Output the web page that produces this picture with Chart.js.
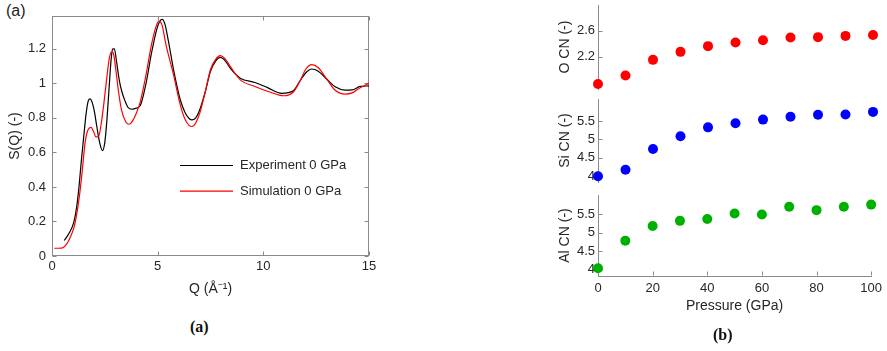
<!DOCTYPE html>
<html>
<head>
<meta charset="utf-8">
<script src="https://cdn.jsdelivr.net/npm/chart.js@4.4.0/dist/chart.umd.min.js"></script>
<style>
body { margin:0; background:#fff; width:887px; height:351px; overflow:hidden; position:relative; font-family:"Liberation Sans", Arial, sans-serif; }
canvas { position:absolute; }
.cap { position:absolute; font-family:"Liberation Serif", serif; font-weight:bold; font-size:16px; line-height:16px; color:#111; }
</style>
</head>
<body>
<div style="position:absolute;left:6px;top:2px;font-size:16px;line-height:18px;color:#222">(a)</div>
<canvas id="sq" width="380" height="300" style="left:0;top:0"></canvas>
<canvas id="ocn" width="347" height="108" style="left:540px;top:-7px"></canvas>
<canvas id="sicn" width="347" height="107" style="left:540px;top:87px"></canvas>
<canvas id="alcn" width="347" height="137" style="left:540px;top:183px"></canvas>
<div class="cap" style="left:190px;top:319px">(a)</div>
<div class="cap" style="left:713px;top:327px">(b)</div>
<script>
// S(Q) curves
var expQ = [0.58,0.8,1.02,1.15,1.26,1.38,1.5,1.62,1.72,1.8,1.9,2.0,2.12,2.25,2.39,2.5,2.6,2.7,2.8,2.87,2.95,3.05,3.18,3.31,3.45,3.6,3.78,3.95,4.17,4.45,4.7,4.95,5.1,5.22,5.35,5.5,5.75,6.07,6.3,6.5,6.62,6.8,7.0,7.25,7.5,7.75,7.96,8.2,8.45,8.91,9.6,10.2,10.87,11.42,11.74,12.0,12.29,12.6,13.0,13.4,13.87,14.2,14.58,15];
var expS = [0.09,0.13,0.19,0.27,0.38,0.54,0.69,0.83,0.9,0.91,0.89,0.84,0.75,0.66,0.61,0.66,0.79,0.97,1.14,1.2,1.2,1.13,1.02,0.95,0.9,0.86,0.85,0.855,0.87,1.0,1.17,1.31,1.36,1.37,1.34,1.25,1.08,0.905,0.83,0.795,0.788,0.8,0.85,0.95,1.07,1.13,1.15,1.13,1.085,1.03,1.005,0.975,0.942,0.957,1.015,1.06,1.083,1.07,1.025,0.98,0.961,0.962,0.982,0.985];
var simQ = [0.11,0.3,0.5,0.7,0.87,1.05,1.18,1.3,1.42,1.57,1.7,1.85,1.97,2.08,2.2,2.32,2.45,2.6,2.72,2.84,2.93,3.02,3.15,3.3,3.5,3.65,3.8,4.0,4.17,4.45,4.7,4.9,5.05,5.2,5.4,5.75,6.07,6.3,6.5,6.62,6.8,7.0,7.25,7.5,7.75,7.96,8.2,8.45,8.91,9.6,10.3,10.95,11.42,11.74,12.0,12.29,12.6,13.0,13.4,13.87,14.2,14.58,15];
var simS = [0.045,0.045,0.047,0.07,0.11,0.17,0.25,0.35,0.48,0.66,0.73,0.745,0.72,0.69,0.69,0.76,0.88,1.04,1.15,1.185,1.16,1.08,0.95,0.84,0.775,0.763,0.78,0.83,0.89,1.05,1.22,1.32,1.36,1.34,1.22,1.05,0.875,0.79,0.755,0.75,0.77,0.83,0.95,1.08,1.14,1.16,1.14,1.095,1.02,0.982,0.95,0.928,0.95,1.015,1.08,1.108,1.09,1.025,0.96,0.938,0.945,0.975,1.0];
var sqTicks = [0,0.2,0.4,0.6,0.8,1,1.2];

// coordination numbers vs pressure
var pressure = [0,10,20,30,40,50,60,70,80,90,100];
var oCN  = [1.785,1.917,2.154,2.276,2.363,2.419,2.454,2.495,2.5,2.519,2.534];
var siCN = [4.0,4.18,4.74,5.09,5.33,5.44,5.54,5.62,5.67,5.68,5.75];
var alCN = [4.035,4.78,5.18,5.32,5.37,5.52,5.49,5.70,5.61,5.70,5.76];
var oTicks = [2.2,2.6];
var cnTicks = [4,4.5,5,5.5];

var axisGray = '#8a8a8a';
var textCol = '#262626';
var tickFont = {family:'Liberation Sans', size:13};
var titleFont = {family:'Liberation Sans', size:14};

function fmt(v) { return String(+(+v).toFixed(2)); }
function fixTicks(list) { return function(s) { s.ticks = list.map(function(v){ return {value:v}; }); }; }
function seg(ctx, x1, y1, x2, y2) { ctx.beginPath(); ctx.moveTo(x1, y1); ctx.lineTo(x2, y2); ctx.stroke(); }

// matlab style ticks pointing into the plot (+ the box for the left one)
var inTicks = {
  id: 'inTicks',
  beforeDatasetsDraw: function(chart, args, o) {
    var ctx = chart.ctx, a = chart.chartArea, len = 4;
    var xs = chart.scales.x, ys = chart.scales.y;
    var L = Math.round(a.left) + 0.5, R = Math.round(a.right) - 0.5, T = Math.round(a.top) + 0.5, B = Math.round(a.bottom) - 0.5;
    ctx.save();
    ctx.strokeStyle = axisGray;
    ctx.lineWidth = 1;
    if (o.box) ctx.strokeRect(L, T, R - L, B - T);
    ys.ticks.forEach(function(t) {
      var p = Math.round(ys.getPixelForValue(t.value)) + 0.5;
      seg(ctx, L, p, L + len, p);
      if (o.box) seg(ctx, R, p, R - len, p);
    });
    if (o.bottom) xs.ticks.forEach(function(t) {
      var p = Math.round(xs.getPixelForValue(t.value)) + 0.5;
      seg(ctx, p, B, p, B - len);
      if (o.box) seg(ctx, p, T, p, T + len);
    });
    ctx.restore();
  }
};

var boxLegend = {
  id: 'boxLegend',
  afterDraw: function(chart, args, o) {
    if (!o.show) return;
    var ctx = chart.ctx;
    ctx.save();
    ctx.font = '13px "Liberation Sans"';
    ctx.textBaseline = 'middle';
    chart.data.datasets.forEach(function(d, i) {
      var y = o.y + i * o.gap + 0.5;
      ctx.strokeStyle = d.borderColor;
      ctx.lineWidth = 1.2;
      seg(ctx, o.x, y, o.x + o.w, y);
      ctx.fillStyle = textCol;
      ctx.fillText(d.label, o.x + o.w + 7, y);
    });
    ctx.restore();
  }
};

function pairs(xs, ys) { return xs.map(function(x, i){ return {x:x, y:ys[i]}; }); }

new Chart(document.getElementById('sq'), {
  type: 'line',
  data: {
    datasets: [
      {label:'Experiment 0 GPa', data:pairs(expQ, expS), borderColor:'#000', borderWidth:1.2, pointRadius:0, cubicInterpolationMode:'monotone', order:1},
      {label:'Simulation 0 GPa', data:pairs(simQ, simS), borderColor:'#f00', borderWidth:1.2, pointRadius:0, cubicInterpolationMode:'monotone', order:0}
    ]
  },
  options: {
    responsive:false, animation:false,
    layout: {padding:{left:0, right:11, top:16, bottom:0}},
    plugins: {legend:{display:false}, tooltip:{enabled:false},
      inTicks:{box:true, bottom:true},
      boxLegend:{show:true, x:180, y:165, gap:25.7, w:53}},
    scales: {
      x: {type:'linear', min:0, max:15,
        ticks:{stepSize:5, color:textCol, font:tickFont, padding:3, maxRotation:0},
        grid:{display:false, drawTicks:false}, border:{display:false},
        title:{display:true, text:'Q (Å⁻¹)', color:textCol, font:titleFont, padding:{top:0, bottom:2}},
        afterFit:function(s){ s.height = 44; }},
      y: {min:0, max:1.39, afterBuildTicks:fixTicks(sqTicks),
        ticks:{color:textCol, font:tickFont, padding:6, callback:fmt, autoSkip:false},
        grid:{display:false, drawTicks:false}, border:{display:false},
        title:{display:true, text:'S(Q) (-)', color:textCol, font:titleFont, padding:{top:7, bottom:0}},
        afterFit:function(s){ s.width = 52; }}
    }
  },
  plugins:[inTicks, boxLegend]
});

function cnChart(id, label, vals, col, ymin, ymax, yticks, last, padTop, padBottom) {
  return new Chart(document.getElementById(id), {
    type: 'scatter',
    data: {datasets:[{label:label, data:pairs(pressure, vals), backgroundColor:col, borderWidth:0, pointRadius:5, clip:false}]},
    options: {
      responsive:false, animation:false,
      layout: {padding:{left:0, right:14, top:padTop, bottom:padBottom}},
      plugins: {legend:{display:false}, tooltip:{enabled:false}, inTicks:{box:false, bottom:last}},
      scales: {
        x: {type:'linear', min:0, max:100, display:last,
          ticks:{stepSize:20, color:textCol, font:tickFont, padding:5, maxRotation:0},
          grid:{display:false, drawTicks:false}, border:{display:last, color:axisGray},
          title:{display:true, text:'Pressure (GPa)', color:textCol, font:titleFont, padding:{top:0, bottom:5}},
          afterFit:function(s){ s.height = last ? 44 : 0; }},
        y: {min:ymin, max:ymax, afterBuildTicks:fixTicks(yticks),
          ticks:{color:textCol, font:tickFont, padding:3, callback:fmt, autoSkip:false},
          grid:{display:false, drawTicks:false}, border:{display:true, color:axisGray},
          title:{display:true, text:label, color:textCol, font:titleFont, padding:{top:17, bottom:0}},
          afterFit:function(s){ s.width = 58; }}
      }
    },
    plugins:[inTicks]
  });
}

cnChart('ocn', 'O CN (-)', oCN, '#ff0000', 1.71, 2.99, oTicks, false, 12, 12);
cnChart('sicn', 'Si CN (-)', siCN, '#0000ff', 3.845, 6.10, cnTicks, false, 12, 12);
cnChart('alcn', 'Al CN (-)', alCN, '#00b000', 3.826, 6.02, cnTicks, true, 12, 0);
</script>
</body>
</html>
